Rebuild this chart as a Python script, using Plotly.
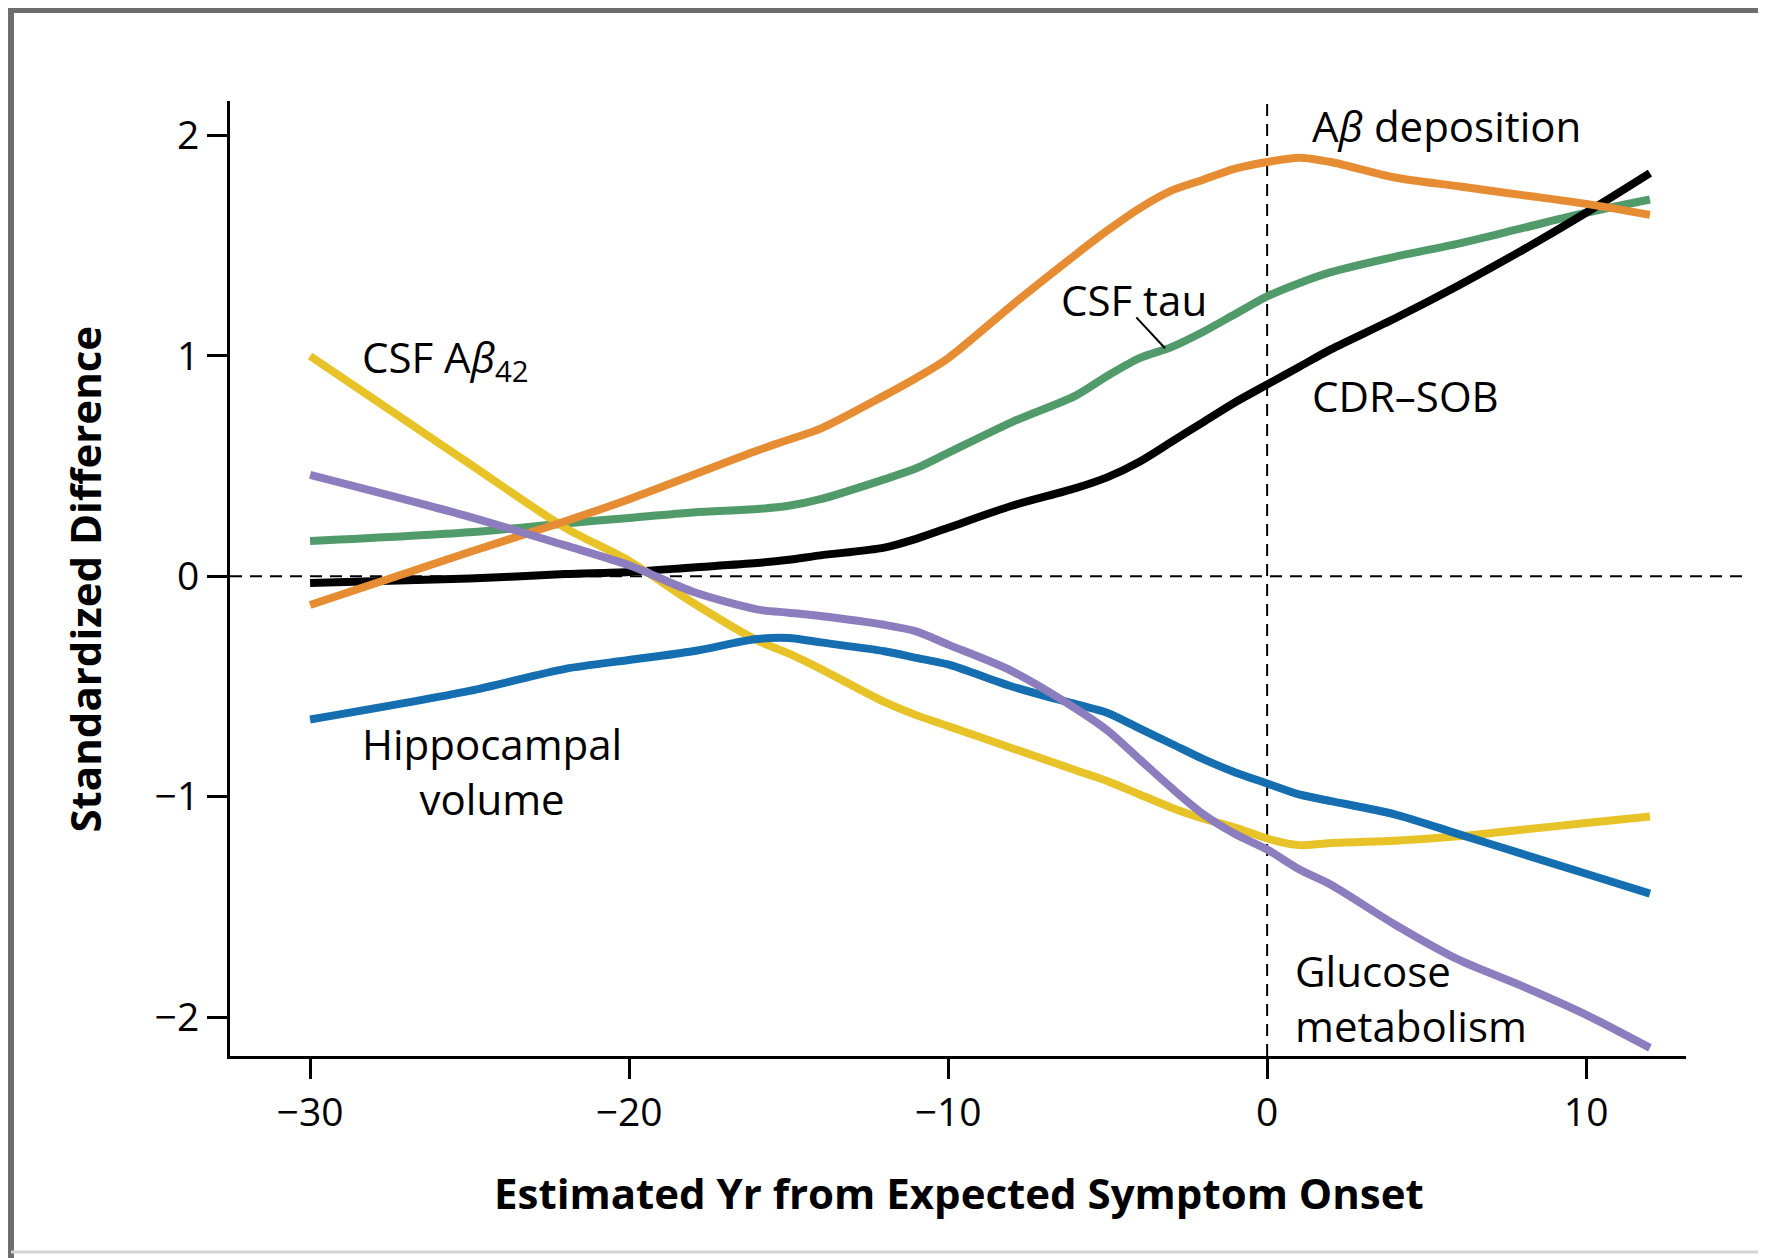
import plotly.graph_objects as go

# Estimated years from expected symptom onset
years = [-30, -25, -22, -20, -18, -16, -15, -14, -12, -11, -10, -8, -6, -5,
         -4, -3, -2, -1, 0, 1, 2, 4, 6, 8, 10, 12]

# Standardized difference (carriers vs noncarriers)
csf_tau = [0.16, 0.20, 0.24, 0.265, 0.29, 0.305, 0.32, 0.35, 0.44, 0.49, 0.56, 0.70, 0.82, 0.91,
           0.99, 1.04, 1.11, 1.19, 1.27, 1.33, 1.38, 1.45, 1.51, 1.58, 1.65, 1.71]
cdr_sob = [-0.03, -0.01, 0.01, 0.02, 0.04, 0.06, 0.075, 0.095, 0.13, 0.17, 0.22, 0.32, 0.40, 0.45,
           0.52, 0.61, 0.70, 0.79, 0.87, 0.95, 1.03, 1.17, 1.32, 1.48, 1.65, 1.83]
csf_ab42 = [1.00, 0.51, 0.22, 0.07, -0.12, -0.29, -0.35, -0.42, -0.57, -0.63, -0.68, -0.78, -0.88, -0.93,
            -0.99, -1.05, -1.10, -1.14, -1.19, -1.22, -1.21, -1.20, -1.18, -1.15, -1.12, -1.09]
hippocampal = [-0.65, -0.52, -0.42, -0.38, -0.34, -0.285, -0.28, -0.30, -0.34, -0.37, -0.40, -0.50, -0.58, -0.62,
               -0.69, -0.76, -0.83, -0.89, -0.94, -0.99, -1.02, -1.08, -1.17, -1.26, -1.35, -1.44]
ab_deposition = [-0.13, 0.11, 0.25, 0.35, 0.46, 0.57, 0.62, 0.67, 0.82, 0.90, 0.99, 1.23, 1.46, 1.57,
                 1.67, 1.75, 1.80, 1.85, 1.88, 1.90, 1.88, 1.81, 1.77, 1.73, 1.69, 1.64]
glucose = [0.46, 0.27, 0.14, 0.05, -0.07, -0.15, -0.165, -0.18, -0.22, -0.25, -0.31, -0.43, -0.60, -0.70,
           -0.83, -0.96, -1.08, -1.17, -1.24, -1.33, -1.40, -1.58, -1.74, -1.86, -1.99, -2.14]

x_ticks = [-30, -20, -10, 0, 10]
x_labels = ["\u221230", "\u221220", "\u221210", "0", "10"]
y_ticks = [-2, -1, 0, 1, 2]
y_labels = ["\u22122", "\u22121", "0", "1", "2"]

FONT = "Open Sans, Noto Sans, sans-serif"

# drawing order: bottom to top
series = [
    ("CSF tau", csf_tau, "#509B69"),
    ("CDR-SOB", cdr_sob, "#000000"),
    ("CSF Ab42", csf_ab42, "#E8C328"),
    ("Hippocampal volume", hippocampal, "#156EAF"),
    ("Ab deposition", ab_deposition, "#E68C32"),
    ("Glucose metabolism", glucose, "#8C7DBE"),
]

fig = go.Figure()
for name, vals, color in series:
    fig.add_trace(go.Scatter(
        x=years, y=vals, name=name, mode="lines",
        line=dict(color=color, width=8, shape="spline", smoothing=0.8),
    ))

# reference lines
fig.add_shape(type="line", xref="paper", yref="y", x0=0, x1=1.041, y0=0, y1=0,
              line=dict(color="black", width=2, dash="12px,8px"), layer="below")
fig.add_shape(type="line", xref="x", yref="paper", x0=0, x1=0, y0=0, y1=0.997,
              line=dict(color="black", width=2, dash="12px,8px"), layer="below")

# leader line for CSF tau
fig.add_shape(type="line", xref="x", yref="y", x0=-4.1, y0=1.175, x1=-3.2, y1=1.035,
              line=dict(color="black", width=2))

# frame around the figure (page has an 8px body margin, figure sized to fit)
frame = "#6d6d6d"
fig.add_shape(type="line", xref="paper", yref="paper", x0=-0.1504, x1=1.06, y0=1.0953, y1=1.0953,
              line=dict(color=frame, width=6))
fig.add_shape(type="line", xref="paper", yref="paper", x0=-0.1504, x1=-0.1504, y0=-0.22, y1=1.098,
              line=dict(color=frame, width=6))
fig.add_shape(type="line", xref="paper", yref="paper", x0=-0.1504, x1=1.06, y0=-0.2052, y1=-0.2052,
              line=dict(color="#d4d4d4", width=3))

lab = dict(size=42, color="black", family=FONT)
labels = [
    dict(x=1.35, y=2.045, text="A<i>\u03b2</i> deposition", xanchor="left"),
    dict(x=-6.52, y=1.257, text="CSF tau", xanchor="left"),
    dict(x=1.35, y=0.822, text="CDR\u2013SOB", xanchor="left"),
    dict(x=-28.43, y=0.985, text="CSF A<i>\u03b2</i><sub>42</sub>", xanchor="left"),
    dict(x=-24.3, y=-0.885, text="Hippocampal<br>volume", xanchor="center", align="center"),
    dict(x=0.815, y=-1.914, text="Glucose<br>metabolism", xanchor="left", align="left"),
]
for a in labels:
    fig.add_annotation(xref="x", yref="y", showarrow=False, yanchor="middle", font=lab, **a)

# axis titles
fig.add_annotation(xref="paper", yref="paper", x=0.501, y=-0.1425, showarrow=False,
                   text="<b>Estimated Yr from Expected Symptom Onset</b>",
                   font=dict(size=42, color="black", family=FONT), yanchor="middle")
fig.add_annotation(xref="paper", yref="paper", x=-0.0999, y=0.4995, showarrow=False,
                   text="<b>Standardized Difference</b>", textangle=-90,
                   font=dict(size=42, color="black", family=FONT), xanchor="center")

axis_common = dict(
    showline=True, linecolor="black", linewidth=3, showgrid=False, zeroline=False,
    ticks="outside", ticklen=20, tickwidth=2.5, tickcolor="black",
    tickfont=dict(size=39, color="black", family=FONT), mirror=False,
)
fig.update_xaxes(range=[-32.51, 13.13], tickvals=x_ticks, ticktext=x_labels, **axis_common)
fig.update_yaxes(range=[-2.177, 2.157], tickvals=y_ticks, ticktext=y_labels, **axis_common)

fig.update_layout(
    width=1758, height=1250,
    margin=dict(l=222, r=80, t=93, b=202),
    paper_bgcolor="white", plot_bgcolor="white",
    showlegend=False,
    font=dict(family=FONT, color="black"),
)

fig.write_html("out.html")
